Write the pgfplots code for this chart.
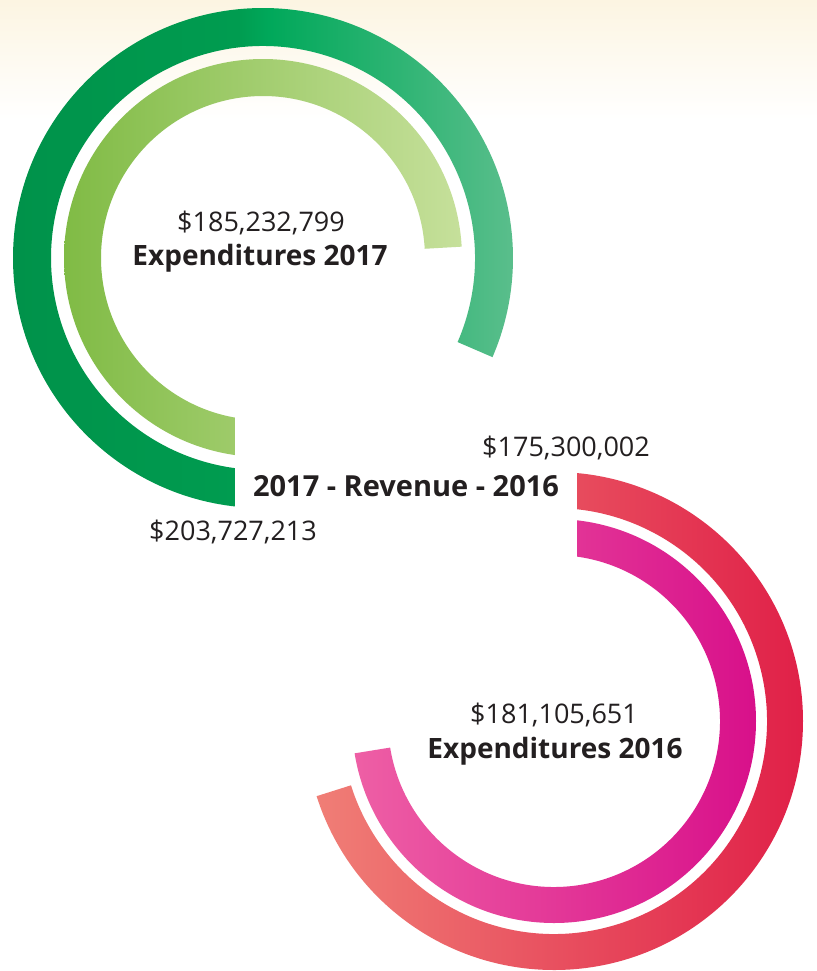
\documentclass[border=0pt]{standalone}
\usepackage{pgfplots}
\usepackage{pgfplotstable}
\pgfplotsset{compat=1.18}
\usepackage{fontspec}
\setmainfont{Open Sans}

\definecolor{txt}{HTML}{231F20}
\definecolor{cream}{HTML}{FCF5E2}
% green rings (2017)
\definecolor{gOutL}{HTML}{00924A}
\definecolor{gOutB}{HTML}{009C50}
\definecolor{gOutM}{HTML}{00A85A}
\definecolor{gOutQ}{HTML}{2DB473}
\definecolor{gOutR}{HTML}{5EBF8E}
\definecolor{gInL}{HTML}{80BB45}
\definecolor{gInM}{HTML}{A6D06F}
\definecolor{gInR}{HTML}{C6E09B}
% red rings (2016)
\definecolor{rOutL}{HTML}{F07E76}
\definecolor{rOutM}{HTML}{E64257}
\definecolor{rOutR}{HTML}{E02048}
\definecolor{rInL}{HTML}{EE5FA5}
\definecolor{rInM}{HTML}{E3098B}
\definecolor{rInR}{HTML}{D8108A}

% bbox of the path maps onto 25bp..75bp
\pgfdeclarehorizontalshading{gOutShade}{100bp}{%
  color(0bp)=(gOutL); color(25bp)=(gOutL); color(47bp)=(gOutB);
  color(50bp)=(gOutM); color(62.5bp)=(gOutQ); color(75bp)=(gOutR);
  color(100bp)=(gOutR)}

\pgfdeclareplotmark{nothing}{}

% values in millions of dollars, full circle = 250
\pgfplotstableread{
cx   cy   value
263  258  203.727213
}\revA
\pgfplotstableread{
cx   cy   value
263  258  185.232799
}\expA
\pgfplotstableread{
cx   cy   value
554  721  175.300002
}\revB
\pgfplotstableread{
cx   cy   value
554  721  181.105651
}\expB

% #1 start angle, #2 r inner (pt), #3 r outer (pt), #4 shading keys
\newcommand\ringseg[4]{%
  \pgfmathsetmacro\angEnd{#1-\pgfplotspointmeta/250*360}%
  \shade[draw=none, #4]
    (#1:#3) arc[start angle=#1, end angle=\angEnd, radius=#3]
    -- (\angEnd:#2) arc[start angle=\angEnd, end angle=#1, radius=#2] -- cycle;
}

\pgfplotsset{ring/.style={only marks, scatter, mark=nothing,
    point meta=explicit symbolic,
    scatter/@post marker code/.code={}}}

\begin{document}
\begin{tikzpicture}
\begin{axis}[
    x=0.5pt, y=0.5pt,
    xmin=0, xmax=817, ymin=0, ymax=971,
    y dir=reverse,
    scale only axis,
    hide axis,
    clip=false,
]
\fill[white] (axis cs:0,0) rectangle (axis cs:817,971);
\shade[top color=cream, bottom color=white] (axis cs:0,0) rectangle (axis cs:817,120);

\addplot[ring, scatter/@pre marker code/.code={\ringseg{270}{106pt}{125pt}{shading=gOutShade}}]
    table[x=cx, y=cy, meta=value] {\revA};
\addplot[ring, scatter/@pre marker code/.code={\ringseg{270}{81pt}{99.5pt}{left color=gInL, middle color=gInM, right color=gInR}}]
    table[x=cx, y=cy, meta=value] {\expA};
\addplot[ring, scatter/@pre marker code/.code={\ringseg{90}{106.5pt}{124.5pt}{left color=rOutL, middle color=rOutM, right color=rOutR}}]
    table[x=cx, y=cy, meta=value] {\revB};
\addplot[ring, scatter/@pre marker code/.code={\ringseg{90}{83pt}{101pt}{left color=rInL, middle color=rInM, right color=rInR}}]
    table[x=cx, y=cy, meta=value] {\expB};

\coordinate (boxA) at (axis cs:235,410);
\coordinate (boxB) at (axis cs:577,562);
\coordinate (l1) at (axis cs:261,232);
\coordinate (l2) at (axis cs:260,266);
\coordinate (l3) at (axis cs:406,497);
\coordinate (l4) at (axis cs:233,541);
\coordinate (l5) at (axis cs:566,457);
\coordinate (l6) at (axis cs:554,724);
\coordinate (l7) at (axis cs:555,759);
\end{axis}

% white band under the centre label, drawn over the ring starts
\fill[white] (boxA) rectangle (boxB);

\begin{scope}[every node/.style={anchor=base, text=txt, inner sep=0pt}]
\node[font=\fontsize{13.5}{16}\selectfont] at (l1) {\$185,232,799};
\node[font=\fontsize{14}{17}\selectfont\bfseries] at (l2) {Expenditures 2017};
\node[font=\fontsize{14.5}{17}\selectfont\bfseries] at (l3) {2017 - Revenue - 2016};
\node[font=\fontsize{13.5}{16}\selectfont] at (l4) {\$203,727,213};
\node[font=\fontsize{13.5}{16}\selectfont] at (l5) {\$175,300,002};
\node[font=\fontsize{13.5}{16}\selectfont] at (l6) {\$181,105,651};
\node[font=\fontsize{14}{17}\selectfont\bfseries] at (l7) {Expenditures 2016};
\end{scope}
\end{tikzpicture}
\end{document}
